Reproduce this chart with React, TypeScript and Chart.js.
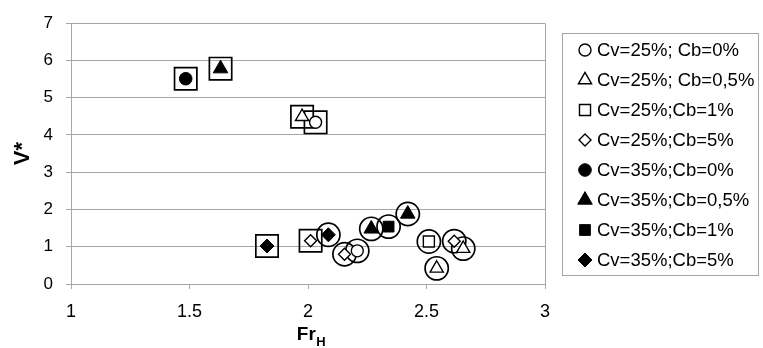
import React, { useEffect, useRef } from 'react';
import { Chart, registerables, PointElement } from 'chart.js';

Chart.register(...registerables);

// ---- data ----
const seriesLabels = [
  'Cv=25%; Cb=0%',
  'Cv=25%; Cb=0,5%',
  'Cv=25%;Cb=1%',
  'Cv=25%;Cb=5%',
  'Cv=35%;Cb=0%',
  'Cv=35%;Cb=0,5%',
  'Cv=35%;Cb=1%',
  'Cv=35%;Cb=5%',
];

const cv25cb0 = [{ x: 2.032, y: 4.34 }, { x: 2.208, y: 0.89 }];
const cv25cb05 = [{ x: 1.975, y: 4.49 }, { x: 2.543, y: 0.42 }, { x: 2.655, y: 0.95 }];
const cv25cb1 = [{ x: 2.51, y: 1.14 }];
const cv25cb5 = [{ x: 2.011, y: 1.16 }, { x: 2.154, y: 0.8 }, { x: 2.617, y: 1.15 }];
const cv35cb0 = [{ x: 1.484, y: 5.51 }];
const cv35cb05 = [{ x: 1.631, y: 5.78 }, { x: 2.267, y: 1.48 }, { x: 2.421, y: 1.88 }];
const cv35cb1 = [{ x: 2.34, y: 1.54 }];
const cv35cb5 = [{ x: 1.827, y: 1.02 }, { x: 2.086, y: 1.32 }];

// frames drawn around points (square frames and circular rings)
const squareFramed = [
  { x: 1.484, y: 5.51 },
  { x: 1.631, y: 5.78 },
  { x: 1.975, y: 4.49 },
  { x: 2.032, y: 4.34 },
  { x: 1.827, y: 1.02 },
  { x: 2.011, y: 1.16 },
];
const circleFramed = [
  { x: 2.086, y: 1.32 },
  { x: 2.154, y: 0.8 },
  { x: 2.208, y: 0.89 },
  { x: 2.267, y: 1.48 },
  { x: 2.34, y: 1.54 },
  { x: 2.421, y: 1.88 },
  { x: 2.51, y: 1.14 },
  { x: 2.543, y: 0.42 },
  { x: 2.617, y: 1.15 },
  { x: 2.655, y: 0.95 },
];

const xTicks = [1, 1.5, 2, 2.5, 3];
const yTicks = [0, 1, 2, 3, 4, 5, 6, 7];
const xTitleMain = 'Fr';
const xTitleSub = 'H';
const yTitle = 'V*';

const seriesData = [cv25cb0, cv25cb05, cv25cb1, cv25cb5, cv35cb0, cv35cb05, cv35cb1, cv35cb5];

// ---- styles ----
const FONT = "'Liberation Sans', Arial, sans-serif";
const GRID = '#a6a6a6';
const markerStyles = [
  { pointStyle: 'circle', radius: 6, fill: '#ffffff', bw: 1.4 },
  { pointStyle: 'triangle', radius: 7.6, fill: '#ffffff', bw: 1.4 },
  { pointStyle: 'rect', radius: 7.8, fill: '#ffffff', bw: 1.4 },
  { pointStyle: 'rectRot', radius: 6, fill: '#ffffff', bw: 1.4 },
  { pointStyle: 'circle', radius: 6.3, fill: '#000000', bw: 1 },
  { pointStyle: 'triangle', radius: 8.4, fill: '#000000', bw: 1 },
  { pointStyle: 'rect', radius: 7.6, fill: '#000000', bw: 1 },
  { pointStyle: 'rectRot', radius: 7, fill: '#000000', bw: 1 },
];

const boxLegend = {
  id: 'boxLegend',
  afterDraw(chart: any, _args: any, opts: any) {
    const { ctx } = chart;
    const items = chart.data.datasets.filter((d: any) => d.inLegend);
    const x0 = opts.left;
    const y0 = opts.top;
    const h = opts.padTop + opts.rowHeight * items.length + opts.padBottom;
    ctx.save();
    ctx.strokeStyle = opts.borderColor;
    ctx.lineWidth = 1;
    ctx.strokeRect(x0 + 0.5, y0 + 0.5, opts.width, h);
    ctx.font = opts.font;
    ctx.textBaseline = 'middle';
    ctx.textAlign = 'left';
    ctx.fillStyle = opts.color;
    const area = { left: 0, top: 0, right: chart.width, bottom: chart.height };
    items.forEach((ds: any, i: number) => {
      const cy = y0 + opts.padTop + opts.rowHeight * (i + 0.5);
      const pt: any = new PointElement({
        x: x0 + opts.markerX,
        y: cy,
        options: {
          pointStyle: ds.pointStyle,
          radius: ds.pointRadius,
          rotation: 0,
          borderWidth: ds.pointBorderWidth,
          borderColor: ds.pointBorderColor,
          backgroundColor: ds.pointBackgroundColor,
        },
      } as any);
      pt.draw(ctx, area);
      ctx.fillStyle = opts.color;
      ctx.fillText(ds.label, x0 + opts.textX, cy + 1);
    });
    ctx.restore();
  },
};

const frameAndTitle = {
  id: 'frameAndTitle',
  afterDraw(chart: any) {
    const { ctx, chartArea } = chart;
    ctx.save();
    // plot area top & right edges
    ctx.strokeStyle = GRID;
    ctx.lineWidth = 1;
    ctx.beginPath();
    ctx.moveTo(Math.round(chartArea.left) + 0.5, Math.round(chartArea.top) + 0.5);
    ctx.lineTo(Math.round(chartArea.right) + 0.5, Math.round(chartArea.top) + 0.5);
    ctx.lineTo(Math.round(chartArea.right) + 0.5, Math.round(chartArea.bottom) + 0.5);
    ctx.stroke();
    // x title with subscript
    ctx.fillStyle = '#000';
    ctx.textBaseline = 'alphabetic';
    ctx.textAlign = 'left';
    ctx.font = `bold 19px ${FONT}`;
    const wMain = ctx.measureText(xTitleMain).width;
    ctx.font = `bold 13px ${FONT}`;
    const wSub = ctx.measureText(xTitleSub).width;
    const cx = (chartArea.left + chartArea.right) / 2 + 3;
    const sx = cx - (wMain + wSub) / 2;
    const by = chartArea.bottom + 56;
    ctx.font = `bold 19px ${FONT}`;
    ctx.fillText(xTitleMain, sx, by);
    ctx.font = `bold 13px ${FONT}`;
    ctx.fillText(xTitleSub, sx + wMain + 0.5, by + 6);
    ctx.restore();
  },
};

export default function App() {
  const ref = useRef<HTMLCanvasElement | null>(null);

  useEffect(() => {
    if (!ref.current) return;
    const datasets: any[] = seriesData.map((data, i) => ({
      label: seriesLabels[i],
      data,
      inLegend: true,
      pointStyle: markerStyles[i].pointStyle,
      pointRadius: markerStyles[i].radius,
      pointBorderWidth: markerStyles[i].bw,
      pointBorderColor: '#000000',
      pointBackgroundColor: markerStyles[i].fill,
      showLine: false,
    }));
    datasets.push({
      label: 'square frame',
      data: squareFramed,
      inLegend: false,
      pointStyle: 'rect',
      pointRadius: 15.8,
      pointBorderWidth: 1.7,
      pointBorderColor: '#000000',
      pointBackgroundColor: 'rgba(0,0,0,0)',
      showLine: false,
    });
    datasets.push({
      label: 'circle frame',
      data: circleFramed,
      inLegend: false,
      pointStyle: 'circle',
      pointRadius: 11.6,
      pointBorderWidth: 1.7,
      pointBorderColor: '#000000',
      pointBackgroundColor: 'rgba(0,0,0,0)',
      showLine: false,
    });

    const chart = new Chart(ref.current, {
      type: 'scatter',
      data: { datasets },
      plugins: [boxLegend, frameAndTitle],
      options: {
        animation: false,
        responsive: true,
        maintainAspectRatio: false,
        events: [],
        layout: { padding: { left: 0, top: 16, right: 218, bottom: 0 } },
        plugins: {
          legend: { display: false },
          tooltip: { enabled: false },
          boxLegend: {
            left: 562,
            top: 33,
            width: 196,
            padTop: 2,
            padBottom: 0,
            rowHeight: 30,
            markerX: 23,
            textX: 35,
            font: `18.5px ${FONT}`,
            color: '#000',
            borderColor: GRID,
          },
        } as any,
        scales: {
          x: {
            type: 'linear',
            min: 1,
            max: 3,
            afterBuildTicks: (scale: any) => {
              scale.ticks = xTicks.map((v) => ({ value: v }));
            },
            afterFit: (scale: any) => {
              scale.height = 64;
            },
            grid: {
              drawOnChartArea: false,
              drawTicks: true,
              tickLength: 5,
              color: GRID,
            },
            border: { color: GRID, width: 1 },
            ticks: {
              font: { family: FONT, size: 18 },
              color: '#000',
              padding: 12,
              maxRotation: 0,
              callback: (v: any) => String(v),
            },
            title: { display: false },
          },
          y: {
            type: 'linear',
            min: 0,
            max: 7,
            afterBuildTicks: (scale: any) => {
              scale.ticks = yTicks.map((v) => ({ value: v }));
            },
            afterFit: (scale: any) => {
              scale.width = 71;
            },
            grid: {
              drawOnChartArea: true,
              drawTicks: true,
              tickLength: 5,
              color: GRID,
            },
            border: { color: GRID, width: 1 },
            ticks: {
              font: { family: FONT, size: 17 },
              color: '#000',
              padding: 13,
              callback: (v: any) => String(v),
            },
            title: {
              display: true,
              text: yTitle,
              font: { family: FONT, size: 22, weight: 'bold' },
              color: '#000',
              padding: { top: 10, bottom: 0 },
            },
          },
        },
      },
    } as any);
    return () => chart.destroy();
  }, []);

  return (
    <div style={{ position: 'fixed', left: 0, top: 0, width: 763, height: 348, background: '#fff' }}>
      <canvas ref={ref} />
    </div>
  );
}
